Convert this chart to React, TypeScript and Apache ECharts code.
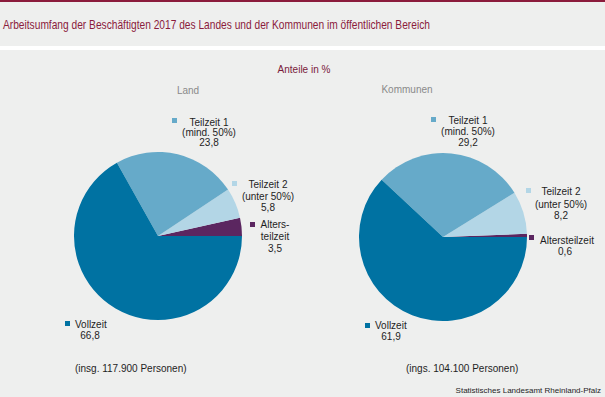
import React, { useEffect, useRef } from "react";
import * as echarts from "echarts";

const categories = ["Altersteilzeit", "Teilzeit 2", "Teilzeit 1", "Vollzeit"];
const landValues = [3.5, 5.8, 23.8, 66.8];
const kommunenValues = [0.6, 8.2, 29.2, 61.9];
const landLabelLines = [["Alters-", "teilzeit"], ["Teilzeit 2", "(unter 50%)"], ["Teilzeit 1", "(mind. 50%)"], ["Vollzeit"]];
const kommunenLabelLines = [["Altersteilzeit"], ["Teilzeit 2", "(unter 50%)"], ["Teilzeit 1", "(mind. 50%)"], ["Vollzeit"]];
const pieTitles = ["Land", "Kommunen"];
const totals = ["(insg. 117.900 Personen)", "(ings. 104.100 Personen)"];
const titleText = "Arbeitsumfang der Beschäftigten 2017 des Landes und der Kommunen im öffentlichen Bereich";
const unitText = "Anteile in %";
const sourceText = "Statistisches Landesamt Rheinland-Pfalz";

const colors = ["#5b2660", "#b3d6e6", "#66aac9", "#0072a2"];
const FONT = "Liberation Sans, Arial, sans-serif";
const TXT = "#1e1e1e";

const fmt = (v: number) => v.toFixed(1).replace(".", ",");

type LabelPos = { sq: [number, number]; cx: number; ys: number[]; leftX?: number; valX?: number };

const landPos: LabelPos[] = [
  { sq: [250, 222], cx: 275, ys: [224, 236, 248] },
  { sq: [232, 181], cx: 268, ys: [184, 196, 207] },
  { sq: [172, 118], cx: 209, ys: [122, 132, 142] },
  { sq: [65, 321], cx: 90, ys: [324, 335], leftX: 75, valX: 90 },
];
const kommunenPos: LabelPos[] = [
  { sq: [529, 235], cx: 567, ys: [240, 251], leftX: 540, valX: 565 },
  { sq: [526, 188], cx: 561, ys: [191, 204, 215] },
  { sq: [431, 117], cx: 468, ys: [120, 131, 142] },
  { sq: [365, 323], cx: 391, ys: [325, 336], leftX: 375, valX: 391 },
];

function buildLabels(values: number[], lines: string[][], pos: LabelPos[]) {
  const els: any[] = [];
  values.forEach((v, i) => {
    const p = pos[i];
    els.push({
      type: "rect",
      shape: { x: p.sq[0], y: p.sq[1], width: 5, height: 5 },
      style: { fill: colors[i] },
      silent: true,
    });
    const allLines = [...lines[i], fmt(v)];
    allLines.forEach((t, j) => {
      const isLast = j === allLines.length - 1;
      let x = p.cx;
      let align = "center";
      if (p.leftX !== undefined) {
        if (isLast) {
          x = p.valX as number;
        } else {
          x = p.leftX;
          align = "left";
        }
      }
      els.push({
        type: "text",
        x,
        y: p.ys[j],
        silent: true,
        style: {
          text: t,
          fill: TXT,
          font: `10px ${FONT}`,
          align,
          verticalAlign: "middle",
        },
      });
    });
  });
  return els;
}

export default function App() {
  const ref = useRef<HTMLDivElement>(null);
  useEffect(() => {
    if (!ref.current) return;
    const chart = echarts.init(ref.current, null, { renderer: "svg" });
    const mkSeries = (values: number[], center: [number, number], name: string) => ({
      type: "pie",
      name,
      center,
      radius: 84,
      startAngle: 0,
      clockwise: false,
      silent: true,
      avoidLabelOverlap: false,
      label: { show: false },
      labelLine: { show: false },
      emphasis: { disabled: true },
      itemStyle: { borderWidth: 0 },
      data: categories.map((c, i) => ({ name: c, value: values[i], itemStyle: { color: colors[i] } })),
    });
    const graphic: any[] = [
      { type: "rect", shape: { x: 0, y: 0, width: 605, height: 2 }, style: { fill: "#8b1b3c" }, silent: true, z: -1 },
      { type: "rect", shape: { x: 0, y: 46, width: 605, height: 4 }, style: { fill: "#ffffff" }, silent: true, z: -1 },
      {
        type: "text", x: 3, y: 25, scaleX: 0.85, silent: true,
        style: { text: titleText, fill: "#8b1b3c", font: `12px ${FONT}`, align: "left", verticalAlign: "middle" },
      },
      {
        type: "text", x: 304, y: 69, silent: true,
        style: { text: unitText, fill: "#7a1a3a", font: `10px ${FONT}`, align: "center", verticalAlign: "middle" },
      },
      {
        type: "text", x: 188, y: 90, silent: true,
        style: { text: pieTitles[0], fill: "#8a8a8a", font: `10px ${FONT}`, align: "center", verticalAlign: "middle" },
      },
      {
        type: "text", x: 407, y: 89, silent: true,
        style: { text: pieTitles[1], fill: "#8a8a8a", font: `10px ${FONT}`, align: "center", verticalAlign: "middle" },
      },
      {
        type: "text", x: 75, y: 368, silent: true,
        style: { text: totals[0], fill: TXT, font: `10px ${FONT}`, align: "left", verticalAlign: "middle" },
      },
      {
        type: "text", x: 406, y: 368, silent: true,
        style: { text: totals[1], fill: TXT, font: `10px ${FONT}`, align: "left", verticalAlign: "middle" },
      },
      {
        type: "text", x: 601, y: 390, silent: true,
        style: { text: sourceText, fill: TXT, font: `8px ${FONT}`, align: "right", verticalAlign: "middle" },
      },
      ...buildLabels(landValues, landLabelLines, landPos),
      ...buildLabels(kommunenValues, kommunenLabelLines, kommunenPos),
    ];
    chart.setOption({
      animation: false,
      backgroundColor: "#eeefee",
      series: [mkSeries(landValues, [158, 236], "Land"), mkSeries(kommunenValues, [443, 237], "Kommunen")],
      graphic,
    });
    return () => chart.dispose();
  }, []);
  return <div ref={ref} style={{ position: "fixed", left: 0, top: 0, width: 605, height: 397 }} />;
}
